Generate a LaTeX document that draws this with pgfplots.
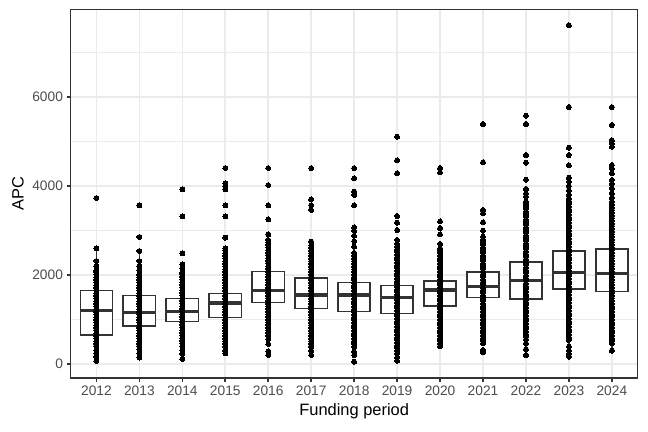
\documentclass[border=0pt]{standalone}
\usepackage{pgfplots}
\pgfplotsset{compat=1.18}
\usepackage{pgfplotstable}
\usepgfplotslibrary{statistics}
\usepackage{fontspec}
\setmainfont{Liberation Sans}

\definecolor{grey20}{HTML}{333333}
\definecolor{grey30}{HTML}{4D4D4D}
\definecolor{grey92}{HTML}{EBEBEB}

% APC values per funding period (one column each)
\pgfplotstableread[row sep=\\]{apc\\67\\160\\240\\300\\390\\450\\510\\570\\630\\690\\750\\810\\870\\930\\990\\1050\\1110\\1170\\1230\\1290\\1350\\1410\\1470\\1530\\1590\\1650\\1710\\1770\\1830\\1890\\1950\\2010\\2070\\2110\\2200\\2315\\2600\\3730\\}\yrA
\pgfplotstableread[row sep=\\]{apc\\142\\240\\330\\390\\450\\510\\570\\630\\690\\750\\810\\870\\930\\990\\1050\\1110\\1170\\1230\\1290\\1350\\1410\\1470\\1530\\1590\\1650\\1710\\1770\\1830\\1890\\1950\\2000\\2100\\2202\\2315\\2540\\2854\\3566\\}\yrB
\pgfplotstableread[row sep=\\]{apc\\112\\225\\300\\400\\460\\520\\580\\640\\700\\760\\820\\880\\940\\1000\\1060\\1120\\1180\\1240\\1300\\1360\\1420\\1480\\1540\\1600\\1660\\1720\\1780\\1840\\1900\\1960\\2020\\2052\\2150\\2240\\2487\\3318\\3925\\}\yrC
\pgfplotstableread[row sep=\\]{apc\\240\\300\\390\\450\\510\\570\\630\\690\\750\\810\\870\\930\\990\\1050\\1110\\1170\\1230\\1290\\1350\\1410\\1470\\1530\\1590\\1650\\1710\\1770\\1830\\1890\\1950\\2010\\2070\\2130\\2190\\2250\\2310\\2370\\2430\\2490\\2550\\2600\\2839\\3318\\3566\\3925\\4000\\4060\\4404\\}\yrD
\pgfplotstableread[row sep=\\]{apc\\202\\285\\449\\560\\640\\700\\760\\820\\880\\940\\1000\\1060\\1120\\1180\\1240\\1300\\1360\\1420\\1480\\1540\\1600\\1660\\1720\\1780\\1840\\1900\\1960\\2020\\2080\\2140\\2200\\2260\\2320\\2380\\2440\\2500\\2560\\2620\\2680\\2740\\2787\\2914\\3251\\3566\\4022\\4404\\}\yrE
\pgfplotstableread[row sep=\\]{apc\\202\\300\\390\\450\\510\\570\\630\\690\\750\\810\\870\\930\\990\\1050\\1110\\1170\\1230\\1290\\1350\\1410\\1470\\1530\\1590\\1650\\1710\\1770\\1830\\1890\\1950\\2010\\2070\\2130\\2190\\2250\\2310\\2370\\2430\\2490\\2550\\2610\\2670\\2749\\3461\\3566\\3700\\4404\\}\yrF
\pgfplotstableread[row sep=\\]{apc\\52\\202\\280\\390\\450\\510\\570\\630\\690\\750\\810\\870\\930\\990\\1050\\1110\\1170\\1230\\1290\\1350\\1410\\1470\\1530\\1590\\1650\\1710\\1770\\1830\\1890\\1950\\2010\\2070\\2130\\2190\\2250\\2310\\2370\\2430\\2500\\2640\\2760\\2880\\2990\\3071\\3566\\3798\\3873\\4172\\4404\\}\yrG
\pgfplotstableread[row sep=\\]{apc\\75\\150\\240\\300\\360\\420\\480\\540\\600\\660\\720\\780\\840\\900\\960\\1020\\1080\\1140\\1200\\1260\\1320\\1380\\1440\\1500\\1560\\1620\\1680\\1740\\1800\\1860\\1920\\1980\\2040\\2100\\2160\\2220\\2280\\2340\\2400\\2460\\2520\\2580\\2640\\2700\\2787\\3011\\3176\\3326\\4285\\4577\\5108\\}\yrH
\pgfplotstableread[row sep=\\]{apc\\404\\460\\520\\580\\640\\700\\760\\820\\880\\940\\1000\\1060\\1120\\1180\\1240\\1300\\1360\\1420\\1480\\1540\\1600\\1660\\1720\\1780\\1840\\1900\\1960\\2020\\2080\\2140\\2200\\2260\\2320\\2380\\2440\\2500\\2560\\2600\\2700\\2914\\3056\\3206\\4307\\4404\\}\yrI
\pgfplotstableread[row sep=\\]{apc\\263\\315\\465\\520\\580\\640\\700\\760\\820\\880\\940\\1000\\1060\\1120\\1180\\1240\\1300\\1360\\1420\\1480\\1540\\1600\\1660\\1720\\1780\\1840\\1900\\1960\\2020\\2080\\2140\\2200\\2260\\2320\\2380\\2440\\2500\\2560\\2620\\2680\\2740\\2800\\2861\\2995\\3184\\3387\\3461\\4532\\5393\\}\yrJ
\pgfplotstableread[row sep=\\]{apc\\202\\330\\465\\555\\614\\670\\730\\790\\850\\910\\970\\1030\\1090\\1150\\1210\\1270\\1330\\1390\\1450\\1510\\1570\\1630\\1690\\1750\\1810\\1870\\1930\\1990\\2050\\2110\\2170\\2230\\2290\\2350\\2410\\2470\\2530\\2590\\2650\\2710\\2770\\2830\\2890\\2950\\3010\\3070\\3130\\3190\\3250\\3310\\3370\\3430\\3490\\3550\\3610\\3648\\3760\\3836\\3933\\4142\\4524\\4697\\5393\\5580\\}\yrK
\pgfplotstableread[row sep=\\]{apc\\165\\230\\300\\390\\540\\600\\660\\720\\780\\840\\900\\960\\1020\\1080\\1140\\1200\\1260\\1320\\1380\\1440\\1500\\1560\\1620\\1680\\1740\\1800\\1860\\1920\\1980\\2040\\2100\\2160\\2220\\2280\\2340\\2400\\2460\\2520\\2580\\2640\\2700\\2760\\2820\\2880\\2940\\3000\\3060\\3120\\3180\\3240\\3300\\3360\\3420\\3480\\3540\\3600\\3660\\3723\\3800\\3900\\4000\\4100\\4187\\4465\\4697\\4861\\5775\\7611\\}\yrL
\pgfplotstableread[row sep=\\]{apc\\300\\465\\520\\580\\640\\700\\760\\820\\880\\940\\1000\\1060\\1120\\1180\\1240\\1300\\1360\\1420\\1480\\1540\\1600\\1660\\1720\\1780\\1840\\1900\\1960\\2020\\2080\\2140\\2200\\2260\\2320\\2380\\2440\\2500\\2560\\2620\\2680\\2740\\2800\\2860\\2920\\2980\\3040\\3100\\3160\\3220\\3280\\3340\\3400\\3460\\3520\\3580\\3648\\3740\\3836\\3950\\4050\\4135\\4285\\4397\\4472\\4883\\4960\\5027\\5371\\5775\\}\yrM

\pgfplotsset{
  bx/.style={draw=grey20, fill=white, line width=1.07bp,
    boxplot/box extend=0.75, boxplot/whisker extend=0,
    boxplot/every median/.style={line width=2.13bp}},
  pts/.style={only marks, mark=*, mark size=1.65bp,
    mark options={draw=black, fill=black, line width=0pt}},
}

\begin{document}
\begin{tikzpicture}
\useasboundingbox (0,0) rectangle (432bp,288bp);
\begin{axis}[
    at={(47.1bp,36.2bp)}, anchor=south west,
    scale only axis, width=378bp, height=245.6bp,
    xmin=-0.6, xmax=12.6, ymin=-308, ymax=7971,
    xtick={0,...,12},
    xticklabels={2012,2013,2014,2015,2016,2017,2018,2019,2020,2021,2022,2023,2024},
    ytick={0,2000,4000,6000},
    minor ytick={1000,3000,5000,7000},
    scaled y ticks=false,
    /pgf/number format/1000 sep={},
    /pgf/number format/assume math mode=true,
    xmajorgrids, ymajorgrids, yminorgrids,
    major grid style={draw=grey92, line width=1.07bp},
    minor grid style={draw=grey92, line width=0.53bp},
    axis line style={draw=grey20, line width=1.07bp},
    tick style={draw=grey20, line width=1.07bp},
    tick align=outside, major tick length=2.74bp, minor tick length=0pt,
    xtick pos=bottom, ytick pos=left,
    ticklabel style={font=\fontsize{9.2}{10}\selectfont, text=grey30},
    xticklabel style={anchor=north, inner sep=0pt, yshift=-2.2bp},
    yticklabel style={anchor=east, inner sep=0pt, xshift=-2.2bp},
    xlabel={Funding period}, ylabel={APC},
    label style={font=\fontsize{11}{13}\selectfont, text=black},
    xlabel style={at={(axis description cs:0.5,-0.09)}, anchor=center},
    ylabel style={at={(axis description cs:-0.093,0.5)}, anchor=center, rotate=0},
    boxplot/draw direction=y,
  ]
  \addplot[bx, boxplot prepared={draw position=0, lower whisker=67, lower quartile=652, median=1206, upper quartile=1648, upper whisker=2600}] coordinates {};
  \addplot[bx, boxplot prepared={draw position=1, lower whisker=142, lower quartile=854, median=1153, upper quartile=1543, upper whisker=2540}] coordinates {};
  \addplot[bx, boxplot prepared={draw position=2, lower whisker=225, lower quartile=951, median=1176, upper quartile=1468, upper whisker=2240}] coordinates {};
  \addplot[bx, boxplot prepared={draw position=3, lower whisker=300, lower quartile=1049, median=1371, upper quartile=1588, upper whisker=2370}] coordinates {};
  \addplot[bx, boxplot prepared={draw position=4, lower whisker=449, lower quartile=1378, median=1648, upper quartile=2083, upper whisker=2914}] coordinates {};
  \addplot[bx, boxplot prepared={draw position=5, lower whisker=300, lower quartile=1251, median=1551, upper quartile=1933, upper whisker=2749}] coordinates {};
  \addplot[bx, boxplot prepared={draw position=6, lower whisker=202, lower quartile=1176, median=1551, upper quartile=1828, upper whisker=2760}] coordinates {};
  \addplot[bx, boxplot prepared={draw position=7, lower whisker=240, lower quartile=1131, median=1491, upper quartile=1768, upper whisker=2700}] coordinates {};
  \addplot[bx, boxplot prepared={draw position=8, lower whisker=520, lower quartile=1310, median=1663, upper quartile=1865, upper whisker=2600}] coordinates {};
  \addplot[bx, boxplot prepared={draw position=9, lower whisker=640, lower quartile=1490, median=1738, upper quartile=2067, upper whisker=2861}] coordinates {};
  \addplot[bx, boxplot prepared={draw position=10, lower whisker=330, lower quartile=1461, median=1872, upper quartile=2292, upper whisker=3490}] coordinates {};
  \addplot[bx, boxplot prepared={draw position=11, lower whisker=390, lower quartile=1679, median=2060, upper quartile=2539, upper whisker=3800}] coordinates {};
  \addplot[bx, boxplot prepared={draw position=12, lower whisker=300, lower quartile=1625, median=2038, upper quartile=2591, upper whisker=3950}] coordinates {};

  \addplot[pts] table[x expr=0, y=apc] {\yrA};
  \addplot[pts] table[x expr=1, y=apc] {\yrB};
  \addplot[pts] table[x expr=2, y=apc] {\yrC};
  \addplot[pts] table[x expr=3, y=apc] {\yrD};
  \addplot[pts] table[x expr=4, y=apc] {\yrE};
  \addplot[pts] table[x expr=5, y=apc] {\yrF};
  \addplot[pts] table[x expr=6, y=apc] {\yrG};
  \addplot[pts] table[x expr=7, y=apc] {\yrH};
  \addplot[pts] table[x expr=8, y=apc] {\yrI};
  \addplot[pts] table[x expr=9, y=apc] {\yrJ};
  \addplot[pts] table[x expr=10, y=apc] {\yrK};
  \addplot[pts] table[x expr=11, y=apc] {\yrL};
  \addplot[pts] table[x expr=12, y=apc] {\yrM};
\end{axis}
\end{tikzpicture}
\end{document}
